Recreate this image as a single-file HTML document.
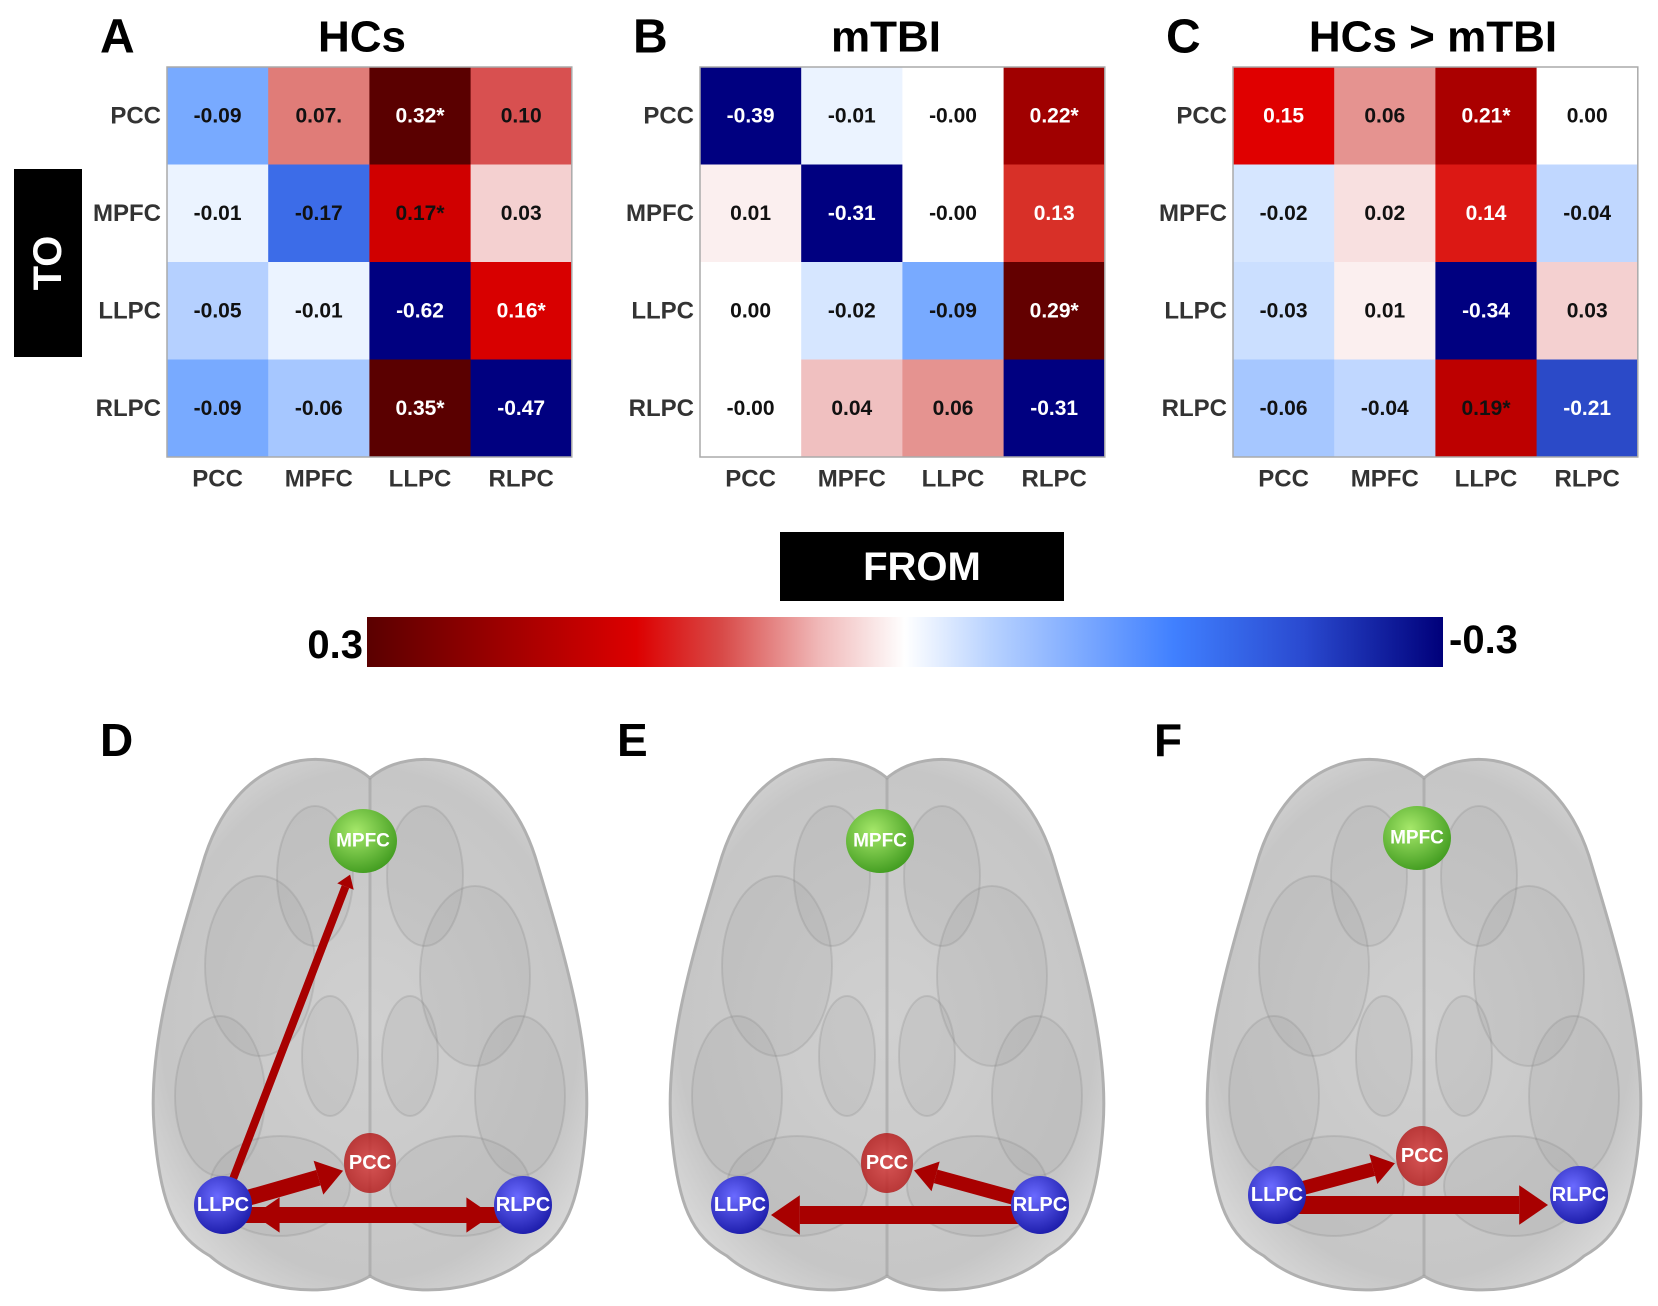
<!DOCTYPE html>
<html><head><meta charset="utf-8"><style>
html,body{margin:0;padding:0;background:#fff;}
svg{display:block;font-family:"Liberation Sans",Arial,sans-serif;}
</style></head><body>
<svg id="fig" width="1658" height="1306" viewBox="0 0 1658 1306">
<defs>
<linearGradient id="cbar" x1="0" x2="1" y1="0" y2="0">
<stop offset="0" stop-color="#5a0000"/><stop offset="0.13" stop-color="#a00000"/><stop offset="0.25" stop-color="#dd0000"/><stop offset="0.33" stop-color="#d84a48"/><stop offset="0.42" stop-color="#f0b8b8"/><stop offset="0.5" stop-color="#ffffff"/><stop offset="0.58" stop-color="#b8d2ff"/><stop offset="0.75" stop-color="#4080ff"/><stop offset="0.87" stop-color="#2a4ad0"/><stop offset="1" stop-color="#00007a"/>
</linearGradient>
<radialGradient id="brainG" cx="0.5" cy="0.5" r="0.6"><stop offset="0" stop-color="#d0d0d0"/><stop offset="0.8" stop-color="#c6c6c6"/><stop offset="1" stop-color="#dadada"/></radialGradient>
<radialGradient id="green" cx="0.4" cy="0.35" r="0.7"><stop offset="0" stop-color="#a6e86a"/><stop offset="1" stop-color="#3f9a1e"/></radialGradient>
<radialGradient id="blue" cx="0.4" cy="0.35" r="0.7"><stop offset="0" stop-color="#6a6aff"/><stop offset="1" stop-color="#1a1aa8"/></radialGradient>
<radialGradient id="redn" cx="0.5" cy="0.5" r="0.6"><stop offset="0" stop-color="#d84040"/><stop offset="0.8" stop-color="#b82020"/><stop offset="1" stop-color="#803030"/></radialGradient>
</defs>
<g id="heatmaps"></g>
<g id="cbarg">
<rect x="14" y="169" width="68" height="188" fill="#000"/>
<text x="48" y="263" fill="#fff" font-size="40" font-weight="bold" text-anchor="middle" dominant-baseline="central" transform="rotate(-90 48 263)">TO</text>
<rect x="780" y="532" width="284" height="69" fill="#000"/>
<text x="922" y="567" fill="#fff" font-size="40" font-weight="bold" text-anchor="middle" dominant-baseline="central">FROM</text>
<rect x="367" y="617" width="1076" height="50" fill="url(#cbar)"/>
<text x="363" y="645" font-size="40" font-weight="bold" text-anchor="end" dominant-baseline="central">0.3</text>
<text x="1449" y="640" font-size="40" font-weight="bold" text-anchor="start" dominant-baseline="central">-0.3</text>
</g>
<g id="brains"></g>
</svg>
<script>
const regions = ["PCC","MPFC","LLPC","RLPC"];
const panelTitles = ["HCs","mTBI","HCs > mTBI"];
const panelLetters = ["A","B","C"];
const valuesHC = [[-0.09,0.07,0.32,0.10],[-0.01,-0.17,0.17,0.03],[-0.05,-0.01,-0.62,0.16],[-0.09,-0.06,0.35,-0.47]];
const labelsHC = [["-0.09","0.07.","0.32*","0.10"],["-0.01","-0.17","0.17*","0.03"],["-0.05","-0.01","-0.62","0.16*"],["-0.09","-0.06","0.35*","-0.47"]];
const valuesTBI = [[-0.39,-0.01,-0.00,0.22],[0.01,-0.31,-0.00,0.13],[0.00,-0.02,-0.09,0.29],[-0.00,0.04,0.06,-0.31]];
const labelsTBI = [["-0.39","-0.01","-0.00","0.22*"],["0.01","-0.31","-0.00","0.13"],["0.00","-0.02","-0.09","0.29*"],["-0.00","0.04","0.06","-0.31"]];
const valuesDiff = [[0.15,0.06,0.21,0.00],[-0.02,0.02,0.14,-0.04],[-0.03,0.01,-0.34,0.03],[-0.06,-0.04,0.19,-0.21]];
const labelsDiff = [["0.15","0.06","0.21*","0.00"],["-0.02","0.02","0.14","-0.04"],["-0.03","0.01","-0.34","0.03"],["-0.06","-0.04","0.19*","-0.21"]];
const whiteHC = [[0,0,1,0],[0,0,0,0],[0,0,1,1],[0,0,1,1]];
const whiteTBI = [[1,0,0,1],[0,1,0,1],[0,0,0,1],[0,0,0,1]];
const whiteDiff = [[1,0,1,0],[0,0,1,0],[0,0,1,0],[0,0,0,1]];
const cmapV = [0.3,0.22,0.17,0.15,0.13,0.10,0.07,0.04,0.0,-0.02,-0.05,-0.09,-0.17,-0.21,-0.3];
const cmapC = ["#5a0000","#a00000","#d00000","#e00000","#d83028","#d85050","#e07c78","#f0c0c0","#ffffff","#d6e6ff","#b5d0ff","#78aaff","#3c6ce8","#2b4ac8","#000080"];

const NS="http://www.w3.org/2000/svg";
function mk(tag,attrs,parent){const e=document.createElementNS(NS,tag);for(const k in attrs)e.setAttribute(k,attrs[k]);parent.appendChild(e);return e;}
function hex(c){return [1,3,5].map(i=>parseInt(c.substr(i,2),16));}
function color(v){
  v=Math.max(-0.3,Math.min(0.3,v));
  for(let i=0;i<cmapV.length-1;i++){
    if(v<=cmapV[i]&&v>=cmapV[i+1]){
      const t=(cmapV[i]-v)/(cmapV[i]-cmapV[i+1]);const a=hex(cmapC[i]),b=hex(cmapC[i+1]);
      return "rgb("+a.map((x,j)=>Math.round(x+(b[j]-x)*t)).join(",")+")";
    }
  }
  return "#fff";
}
const panelX=[167,700,1233], gy=67, cw=101.2, ch=97.5;
function xScale(p,j){return panelX[p]+j*cw;}
function yScale(i){return gy+i*ch;}
const hm=document.getElementById("heatmaps");
const allV=[valuesHC,valuesTBI,valuesDiff], allL=[labelsHC,labelsTBI,labelsDiff], allW=[whiteHC,whiteTBI,whiteDiff];
const titleCx=[362,886,1433];
for(let p=0;p<3;p++){
  const g=mk("g",{},hm);
  
  
  const L=mk("text",{x:panelX[p]-67,y:37,"font-size":48,"font-weight":"bold","dominant-baseline":"central"},g);L.textContent=panelLetters[p];
  
  
  const T=mk("text",{x:titleCx[p],y:37,"font-size":44,"font-weight":"bold","text-anchor":"middle","dominant-baseline":"central"},g);T.textContent=panelTitles[p];
  
  
  for(let i=0;i<4;i++){
    for(let j=0;j<4;j++){
      const v=allV[p][i][j];
      const r=mk("rect",{x:xScale(p,j),y:yScale(i),width:cw+0.5,height:ch+0.5,fill:color(v)},g);
      
      
      const t=mk("text",{x:xScale(p,j)+cw/2,y:yScale(i)+ch/2,"font-size":21,"font-weight":"bold","text-anchor":"middle","dominant-baseline":"central",fill:allW[p][i][j]?"#fff":"#111"},g);
      t.textContent=allL[p][i][j];
      
      
    }
    const rl=mk("text",{x:panelX[p]-6,y:yScale(i)+ch/2,"font-size":24,"font-weight":"bold","text-anchor":"end","dominant-baseline":"central",fill:"#333"},g);
    rl.textContent=regions[i];
    
    
    const cl=mk("text",{x:xScale(p,i)+cw/2,y:479,"font-size":24,"font-weight":"bold","text-anchor":"middle","dominant-baseline":"central",fill:"#333"},g);
    cl.textContent=regions[i];
    
    
  }
  mk("rect",{x:panelX[p],y:gy,width:cw*4,height:ch*4,fill:"none",stroke:"#aaa","stroke-width":1.5},g);
}

const brainCx=[370,887,1424], brainLetters=["D","E","F"];
const nodeOff={MPFC:[-7,85,34,32],PCC:[0,407,26,30],LLPC:[-147,449,29,29],RLPC:[153,449,29,29]};
const nodeOffF={MPFC:[-7,82,34,32],PCC:[-2,400,26,30],LLPC:[-147,439,29,29],RLPC:[155,439,29,29]};
const edgesD=[["LLPC","MPFC",8],["LLPC","PCC",16],["LLPC","RLPC",16],["RLPC","LLPC",16]];
const edgesE=[["RLPC","PCC",14],["RLPC","LLPC",18]];
const edgesF=[["LLPC","PCC",14],["LLPC","RLPC",18]];
const allEdges=[edgesD,edgesE,edgesF];
const br=document.getElementById("brains");
for(let b=0;b<3;b++){
  const cx=brainCx[b], top=756;
  const g=mk("g",{},br);
  
  
  const L=mk("text",{x:cx-270,y:740,"font-size":46,"font-weight":"bold","dominant-baseline":"central"},g);L.textContent=brainLetters[b];
  
  
  const d=`M ${cx} ${top+22} C ${cx-40} ${top-12}, ${cx-135} ${top-8}, ${cx-168} ${top+110} C ${cx-195} ${top+200}, ${cx-222} ${top+290}, ${cx-216} ${top+370} C ${cx-210} ${top+450}, ${cx-195} ${top+480}, ${cx-160} ${top+500} C ${cx-120} ${top+535}, ${cx-40} ${top+545}, ${cx} ${top+520} C ${cx+40} ${top+545}, ${cx+120} ${top+535}, ${cx+160} ${top+500} C ${cx+195} ${top+480}, ${cx+210} ${top+450}, ${cx+216} ${top+370} C ${cx+222} ${top+290}, ${cx+195} ${top+200}, ${cx+168} ${top+110} C ${cx+135} ${top-8}, ${cx+40} ${top-12}, ${cx} ${top+22} Z`;
  const p=mk("path",{d:d,fill:"url(#brainG)",stroke:"#b0b0b0","stroke-width":3},g);
  
  
  const blobs=[[-110,210,55,90],[105,220,55,90],[-150,340,45,80],[150,340,45,80],[-90,430,70,50],[90,430,70,50],[-55,120,38,70],[55,120,38,70],[-40,300,28,60],[40,300,28,60]];
  blobs.forEach(q=>mk("ellipse",{cx:cx+q[0],cy:top+q[1],rx:q[2],ry:q[3],fill:"#8f8f8f","fill-opacity":0.12,stroke:"#777","stroke-opacity":0.2,"stroke-width":2},g));
  mk("line",{x1:cx,y1:top+22,x2:cx,y2:top+520,stroke:"#a0a0a0","stroke-width":3,"stroke-opacity":0.6},g);
  const off=b===2?nodeOffF:nodeOff;
  const pos=n=>[cx+off[n][0],top+off[n][1]];
  allEdges[b].forEach(e=>{
    const [a,c,w]=e;const A=pos(a),C=pos(c);
    const dx=C[0]-A[0],dy=C[1]-A[1],len=Math.hypot(dx,dy),ux=dx/len,uy=dy/len;
    const rA=off[a][2]*0.3, rC=off[c][2]+2;
    const yo=(a==="LLPC"&&c==="RLPC")||(a==="RLPC"&&c==="LLPC")?10:0;
    const sx=A[0]+ux*rA,sy=A[1]+uy*rA+yo,ex=C[0]-ux*rC,ey=C[1]-uy*rC+yo;
    const hl=w*1.6,hw=w*1.1;
    const bx=ex-ux*hl,by=ey-uy*hl,nx=-uy,ny=ux;
    const ln=mk("line",{x1:sx,y1:sy,x2:bx,y2:by,stroke:"#a80000","stroke-width":w},g);
    
    
    mk("polygon",{points:`${ex},${ey} ${bx+nx*hw},${by+ny*hw} ${bx-nx*hw},${by-ny*hw}`,fill:"#a80000"},g);
  });
  const fills={MPFC:"url(#green)",PCC:"url(#redn)",LLPC:"url(#blue)",RLPC:"url(#blue)"};
  ["MPFC","PCC","LLPC","RLPC"].forEach(n=>{
    const P=pos(n);
    const c=mk("ellipse",{cx:P[0],cy:P[1],rx:off[n][2],ry:off[n][3],fill:fills[n],"fill-opacity":n==="PCC"?0.85:1},g);
    
    
    const t=mk("text",{x:P[0],y:P[1],"font-size":n==="MPFC"?19:20,"font-weight":"bold",fill:"#fff","text-anchor":"middle","dominant-baseline":"central"},g);
    t.textContent=n;
    
    
  });
}
</script>
</body></html>
